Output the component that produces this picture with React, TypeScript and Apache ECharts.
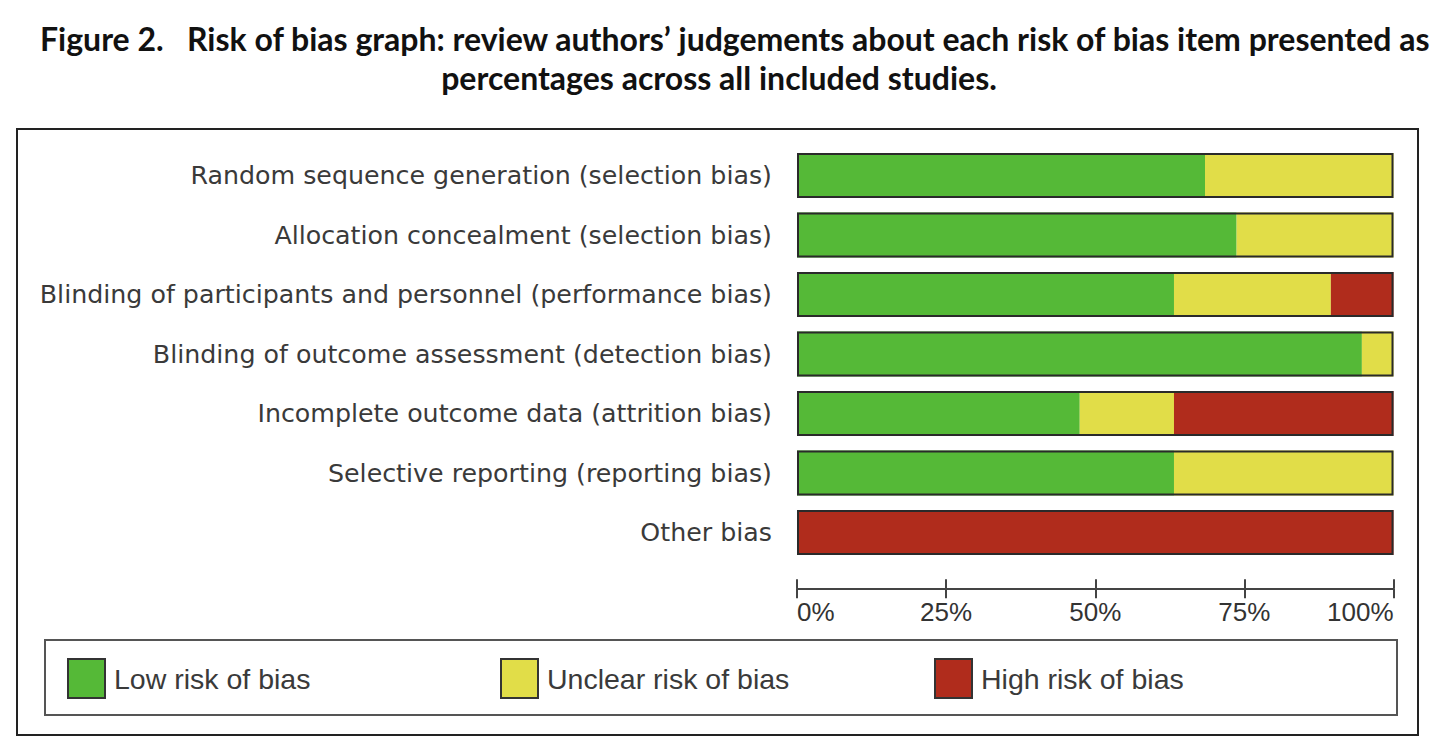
import React, { useEffect, useRef } from "react";
import * as echarts from "echarts";

const categories = [
  "Random sequence generation (selection bias)",
  "Allocation concealment (selection bias)",
  "Blinding of participants and personnel (performance bias)",
  "Blinding of outcome assessment (detection bias)",
  "Incomplete outcome data (attrition bias)",
  "Selective reporting (reporting bias)",
  "Other bias",
];
const lowRisk = [68.4, 73.7, 63.2, 94.7, 47.4, 63.2, 0];
const unclearRisk = [31.6, 26.3, 26.3, 5.3, 15.8, 36.8, 0];
const highRisk = [0, 0, 10.5, 0, 36.8, 0, 100];
const outline = [100, 100, 100, 100, 100, 100, 100];
const tickValues = [0, 25, 50, 75, 100];
const seriesNames = ["Low risk of bias", "Unclear risk of bias", "High risk of bias"];
const colors = ["#55B937", "#E1DD48", "#B02C1C"];
const titleLine1 = "Figure 2.   Risk of bias graph: review authors\u2019 judgements about each risk of bias item presented as";
const titleLine2 = "percentages across all included studies.";

const FONT = "'Liberation Sans', Arial, sans-serif";
const CAT_FONT = "'DejaVu Sans', Verdana, sans-serif";
const TITLE_FONT = "Lato, 'Open Sans', sans-serif";

export default function App() {
  const ref = useRef<HTMLDivElement>(null);
  useEffect(() => {
    if (!ref.current) return;
    const chart = echarts.init(ref.current, undefined, { renderer: "svg" });
    const legendLefts = [62, 495, 929];
    const xAxisBase = {
      type: "value",
      min: tickValues[0],
      max: tickValues[tickValues.length - 1],
      interval: 25,
      position: "bottom",
      offset: 26,
      splitLine: { show: false },
    };
    chart.setOption({
      animation: false,
      backgroundColor: "#ffffff",
      grid: { left: 797, right: 46.5, top: 145.75, bottom: 750 - 562.25, containLabel: false },
      xAxis: [
        {
          ...xAxisBase,
          axisLine: { show: true, lineStyle: { color: "#444", width: 2 } },
          axisTick: { show: true, inside: false, length: 10, lineStyle: { color: "#444", width: 2 } },
          axisLabel: {
            show: true,
            formatter: "{value}%",
            fontSize: 26,
            fontFamily: FONT,
            color: "#333",
            margin: 11,
            alignMinLabel: "left",
            alignMaxLabel: "right",
          },
        },
        {
          ...xAxisBase,
          axisLine: { show: false },
          axisTick: { show: true, inside: true, length: 9, lineStyle: { color: "#444", width: 2 } },
          axisLabel: { show: false },
        },
      ],
      yAxis: {
        type: "category",
        data: categories,
        inverse: true,
        axisLine: { show: false },
        axisTick: { show: false },
        splitLine: { show: false },
        axisLabel: { fontSize: 25.3, fontFamily: CAT_FONT, color: "#3a3a3a", margin: 25 },
      },
      legend: seriesNames.map((name, i) => ({
        show: true,
        data: [name],
        left: legendLefts[i],
        top: 653,
        itemWidth: 37,
        itemHeight: 39,
        itemGap: 0,
        icon: "rect",
        selectedMode: false,
        textStyle: { fontSize: 28.5, fontFamily: FONT, color: "#3a3a3a", padding: [0, 0, 2, 4] },
        itemStyle: { borderColor: "#333", borderWidth: 2 },
      })),
      series: [
        ...[lowRisk, unclearRisk, highRisk].map((d, i) => ({
          name: seriesNames[i],
          type: "bar",
          stack: "total",
          data: d,
          barWidth: 45,
          barGap: "-100%",
          itemStyle: { color: colors[i] },
          silent: true,
        })),
        {
          name: "outline",
          type: "bar",
          data: outline,
          barWidth: 45,
          barGap: "-100%",
          z: 5,
          silent: true,
          itemStyle: { color: "rgba(0,0,0,0)", borderColor: "#2a2a2a", borderWidth: 2 },
        },
      ],
      graphic: [
        {
          type: "text",
          x: 40,
          y: 38,
          style: { text: titleLine1, fontSize: 32, fontWeight: "bold", fontFamily: TITLE_FONT, fill: "#111", verticalAlign: "middle" },
        },
        {
          type: "text",
          x: 719,
          y: 77,
          style: { text: titleLine2, fontSize: 32, fontWeight: "bold", fontFamily: TITLE_FONT, fill: "#111", align: "center", verticalAlign: "middle" },
        },
        {
          type: "rect",
          shape: { x: 17, y: 129, width: 1401, height: 606 },
          style: { fill: "none", stroke: "#222", lineWidth: 2 },
          z: -1,
        },
        {
          type: "rect",
          shape: { x: 45, y: 640, width: 1352, height: 75 },
          style: { fill: "none", stroke: "#555", lineWidth: 2 },
          z: -1,
        },
      ],
    });
    return () => chart.dispose();
  }, []);
  return (
    <div
      ref={ref}
      style={{ position: "absolute", left: 0, top: 0, width: 1440, height: 750 }}
    />
  );
}
